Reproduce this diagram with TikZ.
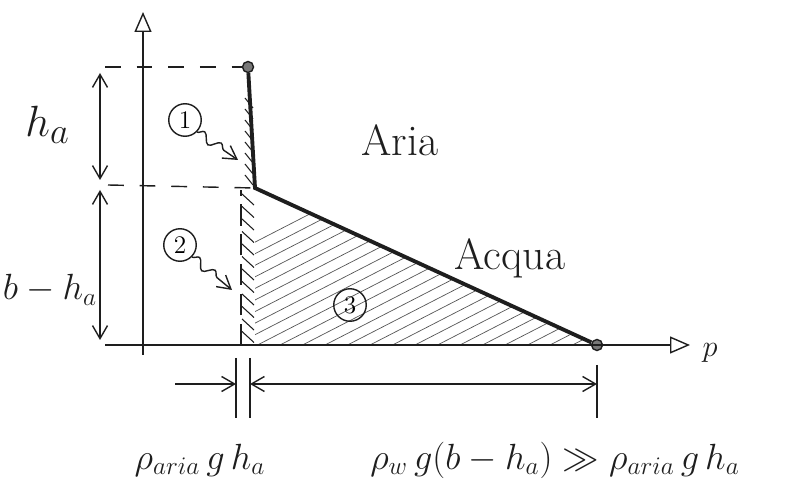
\documentclass[tikz,border=0pt]{standalone}
\usetikzlibrary{arrows.meta,calc,decorations.pathmorphing}
\definecolor{ink}{RGB}{30,30,30}
\tikzset{
  >={Straight Barb[length=2.6mm,width=3mm]},
  axis/.style={thick,draw=ink,-{Triangle[open,length=4mm,width=3.4mm]}},
  wall/.style={line width=2.2pt,draw=ink},
  guide/.style={thick,draw=ink,dash pattern=on 9pt off 9pt},
  span/.style={thick,draw=ink,<->},
  hatch/.style={draw=ink!75,thin},
  tag/.style={font=\Huge,text=ink},
  num/.style={circle,draw=ink,thick,inner sep=0pt,minimum size=6.5mm,font=\Large},
  squiggle/.style={thick,draw=ink,->,decorate,decoration={snake,amplitude=0.9mm,segment length=4mm,post length=2mm}},
  dot/.style={circle,fill=ink!60,draw=ink,thick,inner sep=0pt,minimum size=2.2mm},
}
\begin{document}
\begin{tikzpicture}
  \useasboundingbox (0,0) rectangle (15.82,9.9);
  % key points
  \coordinate (ybot) at (2.86,2.8);
  \coordinate (ytop) at (2.86,9.66);
  \coordinate (xleft) at (2.1,3);
  \coordinate (xright) at (13.8,3);
  \node[dot] (top) at (4.96,8.56) {};
  \coordinate (kink) at (5.1,6.14);
  \coordinate (foot) at (5.1,3);
  \coordinate (strip) at (4.82,3);
  \node[dot] (tip) at (11.94,3) {};
  % hatching, region 3
  \begin{scope}
    \clip (kink) -- (tip.center) -- (foot) -- cycle;
    \foreach \s in {0,0.45,...,10.5}
      \draw[hatch] (5.1-4+\s,3) -- ++(7,3.6);
  \end{scope}
  % hatching, regions 1 and 2
  \foreach \y in {3.05,3.3,...,5.9}
    \draw[ink,semithick] (4.84,\y+0.22) -- (5.08,\y);
  \foreach \y in {6.2,6.42,...,7.8}
    \draw[ink,semithick] (4.9,\y+0.2) -- (5.06,\y);
  \draw[ink,line width=1.4pt,dash pattern=on 12pt off 5pt] (strip) -- (4.82,6.1);
  % axes
  \draw[axis] (ybot) -- (ytop);
  \draw[axis] (xleft) -- (xright);
  \node[tag,font=\LARGE] (p) at (14.2,2.85) {$p$};
  % levels
  \draw[guide] (2.1,8.56) -- (top);
  \draw[guide] (2.16,6.2) -- (kink);
  \draw[wall] (top) -- (kink) -- (tip);
  \draw[span] (2.0,8.44) -- (2.0,6.3);
  \draw[span] (2.0,6.1) -- (2.0,3.1);
  \node[tag] (ha) at (0.95,7.4) {$h_a$};
  \node[tag,font=\huge] (bha) at (1.0,4.1) {$b-h_a$};
  % regions
  \node[num] (r1) at (3.7,7.5) {1};
  \node[num] (r2) at (3.6,5.0) {2};
  \node[num] (r3) at (7.0,3.8) {3};
  \draw[squiggle] (r1.south east) -- (4.76,6.7);
  \draw[squiggle] (r2.south east) -- (4.64,4.1);
  \node[tag] (aria) at (8.0,7.1) {Aria};
  \node[tag] (acqua) at (10.2,4.74) {Acqua};
  % pressures at the base
  \coordinate (m1) at (4.72,2.74);
  \coordinate (m2) at (5.0,2.74);
  \coordinate (m3) at (11.94,2.6);
  \draw[ink,thick] (m1) -- ++(0,-1.2);
  \draw[ink,thick] (m2) -- ++(0,-1.2);
  \draw[ink,thick] (m3) -- ++(0,-1.06);
  \draw[ink,thick,->] (3.5,2.22) -- (4.72,2.22);
  \draw[span] (5.0,2.22) -- (11.94,2.22);
  \node[tag,font=\huge] (pa) at (4.0,0.7) {$\rho_{aria}\,g\,h_a$};
  \node[tag,font=\huge] (pw) at (11.1,0.7) {$\rho_w\,g(b-h_a) \gg \rho_{aria}\,g\,h_a$};
\end{tikzpicture}
\end{document}
